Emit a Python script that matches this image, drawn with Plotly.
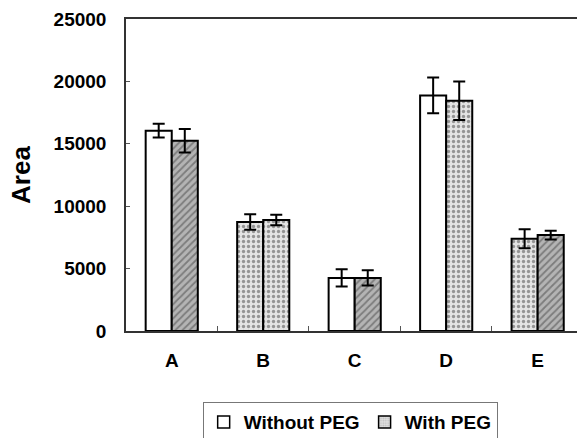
import plotly.graph_objects as go

categories = ["A", "B", "C", "D", "E"]
without_peg = [16050, 8730, 4250, 18880, 7400]
without_peg_err = [550, 620, 690, 1430, 760]
with_peg = [15250, 8890, 4250, 18450, 7690]
with_peg_err = [940, 425, 610, 1550, 350]
y_ticks = [0, 5000, 10000, 15000, 20000, 25000]

# per-bar fill styles as seen in the reference
WHITE = dict(color="white", shape="", fg="white")
DOTS = dict(color="#e4e4e4", shape=".", fg="#9a9a9a")
HATCH = dict(color="#b4b4b4", shape="/", fg="#3a3a3a")
styles_without = [WHITE, DOTS, WHITE, WHITE, DOTS]
styles_with = [HATCH, DOTS, HATCH, DOTS, HATCH]

FONT = "Liberation Sans, Arial, sans-serif"
BAR_W = 0.285


def bar(name, y, err, styles, offset):
    return go.Bar(
        x=categories, y=y, name=name, showlegend=False,
        width=BAR_W, offset=offset,
        marker=dict(
            color=[s["color"] for s in styles],
            line=dict(color="black", width=2),
            pattern=dict(
                shape=[s["shape"] for s in styles],
                fgcolor=[s["fg"] for s in styles],
                bgcolor=[s["color"] for s in styles],
                size=5, solidity=0.35,
            ),
        ),
        error_y=dict(type="data", array=err, color="black", thickness=2, width=6),
    )


fig = go.Figure()
fig.add_trace(bar("Without PEG", without_peg, without_peg_err, styles_without, -BAR_W))
fig.add_trace(bar("With PEG", with_peg, with_peg_err, styles_with, 0))
# legend entries
fig.add_trace(go.Bar(x=[None], y=[None], name="Without PEG",
                     marker=dict(color="white", line=dict(color="black", width=1.5))))
fig.add_trace(go.Bar(x=[None], y=[None], name="With PEG",
                     marker=dict(color="#d0d0d0", line=dict(color="black", width=1.5),
                                 pattern=dict(shape=".", fgcolor="#9a9a9a", bgcolor="#e0e0e0",
                                              size=3, solidity=0.4))))

fig.update_layout(
    width=577, height=438,
    margin=dict(l=126, r=0, t=19, b=107),
    paper_bgcolor="white", plot_bgcolor="white",
    barmode="overlay",
    font=dict(family=FONT, color="black"),
    legend=dict(
        orientation="h", x=0.17, xanchor="left",
        yref="container", y=0.082, yanchor="top",
        bordercolor="#777777", borderwidth=1,
        font=dict(family=FONT, size=19, weight="bold"),
        itemwidth=30, tracegroupgap=0,
    ),
)
fig.update_xaxes(
    range=[-0.5, 4.43], automargin=False,
    showline=True, linecolor="#333333", linewidth=1.5, mirror=True,
    ticks="inside", tickson="boundaries", ticklen=5, tickcolor="#555555",
    tickfont=dict(family=FONT, size=19, weight="bold"),
    ticklabelstandoff=11,
    showgrid=False, zeroline=False,
)
fig.update_yaxes(
    range=[0, 25000], tickvals=y_ticks, ticktext=[str(v) for v in y_ticks],
    automargin=False,
    showline=True, linecolor="#333333", linewidth=1.5, mirror=True,
    ticks="inside", ticklen=4, tickcolor="#555555",
    tickfont=dict(family=FONT, size=19, weight="bold"),
    ticklabelstandoff=14,
    showgrid=False, zeroline=False,
    title=dict(text="Area", font=dict(family=FONT, size=26, weight="bold"), standoff=16),
)

fig.write_html("out.html", config={"displayModeBar": False},
               post_script="document.body.style.margin='0px';")
